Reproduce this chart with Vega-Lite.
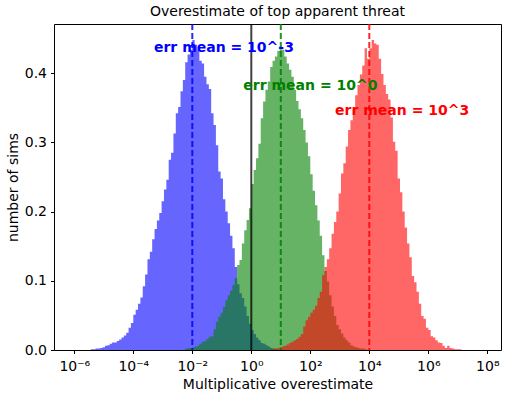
{
"$schema": "https://vega.github.io/schema/vega-lite/v6.json",
"width": 447, "height": 326,
"autosize": {"type": "none"},
"padding": {"left": 54, "top": 24, "right": 6, "bottom": 51},
"config": {
  "font": "DejaVu Sans",
  "view": {"stroke": "#000", "strokeWidth": 1},
  "axis": {"grid": false, "domain": false, "tickColor": "#000", "tickSize": 3.5, "tickWidth": 1, "labelColor": "#000", "labelFontSize": 14, "titleColor": "#000", "titleFontSize": 14, "titleFontWeight": "normal", "labelFont": "DejaVu Sans", "titleFont": "DejaVu Sans"},
  "title": {"fontSize": 14, "fontWeight": "normal", "color": "#000", "font": "DejaVu Sans", "offset": 4}
},
"title": "Overestimate of top apparent threat",
"datasets": {
"blue": [
{"x":-5.44,"h":0.001},{"x":-5.36,"h":0.001},{"x":-5.28,"h":0.002},{"x":-5.20,"h":0.002},{"x":-5.12,"h":0.003},{"x":-5.04,"h":0.004},{"x":-4.96,"h":0.006},{"x":-4.88,"h":0.007},{"x":-4.80,"h":0.009},{"x":-4.72,"h":0.011},{"x":-4.64,"h":0.011},{"x":-4.56,"h":0.013},{"x":-4.48,"h":0.015},{"x":-4.40,"h":0.018},{"x":-4.32,"h":0.021},{"x":-4.24,"h":0.025},{"x":-4.16,"h":0.032},{"x":-4.08,"h":0.039},{"x":-4.00,"h":0.051},{"x":-3.92,"h":0.058},{"x":-3.84,"h":0.067},{"x":-3.76,"h":0.076},{"x":-3.68,"h":0.092},{"x":-3.60,"h":0.109},{"x":-3.52,"h":0.131},{"x":-3.44,"h":0.142},{"x":-3.36,"h":0.160},{"x":-3.28,"h":0.175},{"x":-3.20,"h":0.187},{"x":-3.12,"h":0.198},{"x":-3.04,"h":0.215},{"x":-2.96,"h":0.232},{"x":-2.88,"h":0.246},{"x":-2.80,"h":0.275},{"x":-2.72,"h":0.285},{"x":-2.64,"h":0.313},{"x":-2.56,"h":0.342},{"x":-2.48,"h":0.351},{"x":-2.40,"h":0.374},{"x":-2.32,"h":0.390},{"x":-2.24,"h":0.416},{"x":-2.16,"h":0.427},{"x":-2.08,"h":0.434},{"x":-2.00,"h":0.448},{"x":-1.92,"h":0.441},{"x":-1.84,"h":0.434},{"x":-1.76,"h":0.418},{"x":-1.68,"h":0.414},{"x":-1.60,"h":0.395},{"x":-1.52,"h":0.384},{"x":-1.44,"h":0.377},{"x":-1.36,"h":0.342},{"x":-1.28,"h":0.325},{"x":-1.20,"h":0.296},{"x":-1.12,"h":0.258},{"x":-1.04,"h":0.248},{"x":-0.96,"h":0.218},{"x":-0.88,"h":0.200},{"x":-0.80,"h":0.183},{"x":-0.72,"h":0.165},{"x":-0.64,"h":0.147},{"x":-0.56,"h":0.120},{"x":-0.48,"h":0.095},{"x":-0.40,"h":0.082},{"x":-0.32,"h":0.075},{"x":-0.24,"h":0.063},{"x":-0.16,"h":0.049},{"x":-0.08,"h":0.038},{"x":0.00,"h":0.029},{"x":0.08,"h":0.023},{"x":0.16,"h":0.018},{"x":0.24,"h":0.014},{"x":0.32,"h":0.010},{"x":0.40,"h":0.009},{"x":0.48,"h":0.007},{"x":0.56,"h":0.005},{"x":0.64,"h":0.003},{"x":0.72,"h":0.002},{"x":0.80,"h":0.001},{"x":0.88,"h":0}
],
"green": [
{"x":-2.24,"h":0.002},{"x":-2.16,"h":0.003},{"x":-2.08,"h":0.003},{"x":-2.00,"h":0.004},{"x":-1.92,"h":0.005},{"x":-1.84,"h":0.006},{"x":-1.76,"h":0.009},{"x":-1.68,"h":0.012},{"x":-1.60,"h":0.013},{"x":-1.52,"h":0.016},{"x":-1.44,"h":0.019},{"x":-1.36,"h":0.020},{"x":-1.28,"h":0.030},{"x":-1.20,"h":0.041},{"x":-1.12,"h":0.048},{"x":-1.04,"h":0.054},{"x":-0.96,"h":0.062},{"x":-0.88,"h":0.072},{"x":-0.80,"h":0.079},{"x":-0.72,"h":0.086},{"x":-0.64,"h":0.094},{"x":-0.56,"h":0.104},{"x":-0.48,"h":0.123},{"x":-0.40,"h":0.130},{"x":-0.32,"h":0.154},{"x":-0.24,"h":0.173},{"x":-0.16,"h":0.188},{"x":-0.08,"h":0.205},{"x":0.00,"h":0.240},{"x":0.08,"h":0.260},{"x":0.16,"h":0.277},{"x":0.24,"h":0.298},{"x":0.32,"h":0.335},{"x":0.40,"h":0.359},{"x":0.48,"h":0.376},{"x":0.56,"h":0.388},{"x":0.64,"h":0.409},{"x":0.72,"h":0.418},{"x":0.80,"h":0.424},{"x":0.88,"h":0.432},{"x":0.96,"h":0.439},{"x":1.04,"h":0.434},{"x":1.12,"h":0.424},{"x":1.20,"h":0.414},{"x":1.28,"h":0.405},{"x":1.36,"h":0.395},{"x":1.44,"h":0.376},{"x":1.52,"h":0.360},{"x":1.60,"h":0.348},{"x":1.68,"h":0.335},{"x":1.76,"h":0.318},{"x":1.84,"h":0.300},{"x":1.92,"h":0.280},{"x":2.00,"h":0.254},{"x":2.08,"h":0.230},{"x":2.16,"h":0.209},{"x":2.24,"h":0.187},{"x":2.32,"h":0.165},{"x":2.40,"h":0.137},{"x":2.48,"h":0.114},{"x":2.56,"h":0.099},{"x":2.64,"h":0.079},{"x":2.72,"h":0.063},{"x":2.80,"h":0.049},{"x":2.88,"h":0.036},{"x":2.96,"h":0.030},{"x":3.04,"h":0.024},{"x":3.12,"h":0.018},{"x":3.20,"h":0.014},{"x":3.28,"h":0.011},{"x":3.36,"h":0.007},{"x":3.44,"h":0.005},{"x":3.52,"h":0.004},{"x":3.60,"h":0.003},{"x":3.68,"h":0.002},{"x":3.76,"h":0.002},{"x":3.84,"h":0.001},{"x":3.92,"h":0}
],
"red": [
{"x":0.72,"h":0.001},{"x":0.80,"h":0.002},{"x":0.88,"h":0.003},{"x":0.96,"h":0.004},{"x":1.04,"h":0.005},{"x":1.12,"h":0.006},{"x":1.20,"h":0.008},{"x":1.28,"h":0.010},{"x":1.36,"h":0.012},{"x":1.44,"h":0.014},{"x":1.52,"h":0.016},{"x":1.60,"h":0.019},{"x":1.68,"h":0.023},{"x":1.76,"h":0.034},{"x":1.84,"h":0.043},{"x":1.92,"h":0.048},{"x":2.00,"h":0.054},{"x":2.08,"h":0.058},{"x":2.16,"h":0.064},{"x":2.24,"h":0.075},{"x":2.32,"h":0.084},{"x":2.40,"h":0.108},{"x":2.48,"h":0.120},{"x":2.56,"h":0.131},{"x":2.64,"h":0.147},{"x":2.72,"h":0.168},{"x":2.80,"h":0.185},{"x":2.88,"h":0.200},{"x":2.96,"h":0.226},{"x":3.04,"h":0.255},{"x":3.12,"h":0.270},{"x":3.20,"h":0.294},{"x":3.28,"h":0.318},{"x":3.36,"h":0.332},{"x":3.44,"h":0.347},{"x":3.52,"h":0.368},{"x":3.60,"h":0.383},{"x":3.68,"h":0.398},{"x":3.76,"h":0.411},{"x":3.84,"h":0.436},{"x":3.92,"h":0.421},{"x":4.00,"h":0.436},{"x":4.08,"h":0.448},{"x":4.16,"h":0.443},{"x":4.24,"h":0.441},{"x":4.32,"h":0.421},{"x":4.40,"h":0.399},{"x":4.48,"h":0.383},{"x":4.56,"h":0.370},{"x":4.64,"h":0.362},{"x":4.72,"h":0.336},{"x":4.80,"h":0.301},{"x":4.88,"h":0.288},{"x":4.96,"h":0.248},{"x":5.04,"h":0.228},{"x":5.12,"h":0.200},{"x":5.20,"h":0.177},{"x":5.28,"h":0.154},{"x":5.36,"h":0.134},{"x":5.44,"h":0.107},{"x":5.52,"h":0.098},{"x":5.60,"h":0.084},{"x":5.68,"h":0.067},{"x":5.76,"h":0.049},{"x":5.84,"h":0.045},{"x":5.92,"h":0.032},{"x":6.00,"h":0.029},{"x":6.08,"h":0.020},{"x":6.16,"h":0.018},{"x":6.24,"h":0.014},{"x":6.32,"h":0.011},{"x":6.40,"h":0.010},{"x":6.48,"h":0.006},{"x":6.56,"h":0.003},{"x":6.64,"h":0.006},{"x":6.72,"h":0.003},{"x":6.80,"h":0.002},{"x":6.88,"h":0.001},{"x":6.96,"h":0.001},{"x":7.04,"h":0.001},{"x":7.12,"h":0}
],
"lines": [
{"x":0,"s":"k"},{"x":-2,"s":"b"},{"x":1,"s":"g"},{"x":4,"s":"r"}
],
"labels": [
{"x":-3.30,"h":0.430,"label":"err mean = 10^-3","s":"b"},
{"x":-0.27,"h":0.376,"label":"err mean = 10^0","s":"g"},
{"x":2.84,"h":0.340,"label":"err mean = 10^3","s":"r"}
]
},
"layer": [
{"data": {"name": "blue"},
 "mark": {"type": "area", "interpolate": "step-after", "color": "#0000ff", "opacity": 0.6},
 "encoding": {
  "x": {"field": "x", "type": "quantitative", "title": "Multiplicative overestimate",
        "scale": {"domain": [-6.688, 8.464], "nice": false, "zero": false},
        "axis": {"values": [-6,-4,-2,0,2,4,6,8], "labelPadding": 6, "titlePadding": 4, "labelFlush": false, "labelOverlap": false,
                 "labelExpr": "datum.value == -6 ? '10⁻⁶' : datum.value == -4 ? '10⁻⁴' : datum.value == -2 ? '10⁻²' : datum.value == 0 ? '10⁰' : datum.value == 2 ? '10²' : datum.value == 4 ? '10⁴' : datum.value == 6 ? '10⁶' : '10⁸'"}},
  "y": {"field": "h", "type": "quantitative", "title": "number of sims",
        "scale": {"domain": [0, 0.4711], "nice": false},
        "axis": {"values": [0,0.1,0.2,0.3,0.4], "format": ".1f", "labelPadding": 4, "titlePadding": 4}}
 }},
{"data": {"name": "green"},
 "mark": {"type": "area", "interpolate": "step-after", "color": "#008000", "opacity": 0.6},
 "encoding": {
  "x": {"field": "x", "type": "quantitative", "scale": {"domain": [-6.688, 8.464], "nice": false, "zero": false}},
  "y": {"field": "h", "type": "quantitative", "scale": {"domain": [0, 0.4711], "nice": false}}
 }},
{"data": {"name": "red"},
 "mark": {"type": "area", "interpolate": "step-after", "color": "#ff0000", "opacity": 0.6},
 "encoding": {
  "x": {"field": "x", "type": "quantitative", "scale": {"domain": [-6.688, 8.464], "nice": false, "zero": false}},
  "y": {"field": "h", "type": "quantitative", "scale": {"domain": [0, 0.4711], "nice": false}}
 }},
{"data": {"name": "lines"},
 "transform": [{"filter": "datum.s == 'k'"}],
 "mark": {"type": "rule", "color": "#000000", "strokeWidth": 2, "opacity": 0.75},
 "encoding": {"x": {"field": "x", "type": "quantitative", "scale": {"domain": [-6.688, 8.464], "nice": false, "zero": false}}}},
{"data": {"name": "lines"},
 "transform": [{"filter": "datum.s != 'k'"}],
 "mark": {"type": "rule", "strokeWidth": 2, "strokeDash": [6, 3], "opacity": 0.85},
 "encoding": {
  "x": {"field": "x", "type": "quantitative", "scale": {"domain": [-6.688, 8.464], "nice": false, "zero": false}},
  "color": {"field": "s", "type": "nominal", "legend": null, "scale": {"domain": ["b","g","r"], "range": ["#0000ff","#008000","#ff0000"]}}
 }},
{"data": {"name": "labels"},
 "mark": {"type": "text", "align": "left", "baseline": "alphabetic", "fontWeight": "bold", "fontSize": 14, "font": "DejaVu Sans"},
 "encoding": {
  "x": {"field": "x", "type": "quantitative", "scale": {"domain": [-6.688, 8.464], "nice": false, "zero": false}},
  "y": {"field": "h", "type": "quantitative", "scale": {"domain": [0, 0.4711], "nice": false}},
  "text": {"field": "label"},
  "color": {"field": "s", "type": "nominal", "legend": null, "scale": {"domain": ["b","g","r"], "range": ["#0000ff","#008000","#ff0000"]}}
 }}
]
}
